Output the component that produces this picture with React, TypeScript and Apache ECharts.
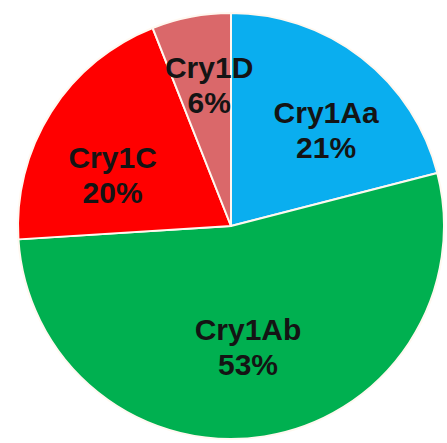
import React, { useEffect, useRef } from "react";
import * as echarts from "echarts";

const categories = ["Cry1Aa", "Cry1Ab", "Cry1C", "Cry1D"];
const values = [21, 53, 20, 6];
const colors = ["#0AAEEF", "#00B050", "#FF0000", "#DA686A"];

const CX = 231;
const CY = 226;
const R = 213;
// label placement (style): radius and angular nudge in degrees per slice
const labelRadius = [135, 122, 129, 143];
const labelAngleNudge = [7, 1, -9, 2];

export default function App() {
  const ref = useRef<HTMLDivElement>(null);
  useEffect(() => {
    document.body.style.margin = "0";
    const chart = echarts.init(ref.current!, null, { renderer: "svg" });
    const total = values.reduce((a, b) => a + b, 0);
    const mids: number[] = [];
    let acc = 0;
    values.forEach((v) => {
      mids.push(((acc + v / 2) / total) * 360);
      acc += v;
    });
    chart.setOption({
      animation: false,
      backgroundColor: "#ffffff",
      series: [
        {
          type: "pie",
          center: [CX, CY],
          radius: [0, R],
          startAngle: 90,
          clockwise: true,
          silent: true,
          itemStyle: { borderColor: "#FFF8F0", borderWidth: 2 },
          label: {
            show: true,
            position: "inside",
            formatter: (p: any) => `${p.name}\n${p.value}%`,
            fontFamily: "Liberation Sans, Arial, sans-serif",
            fontWeight: "bold",
            fontSize: 30,
            lineHeight: 35,
            color: "#141414",
            align: "center",
            verticalAlign: "middle",
          },
          labelLine: { show: false },
          labelLayout: (params: any) => {
            const i = params.dataIndex;
            const a = ((mids[i] + labelAngleNudge[i]) * Math.PI) / 180;
            return {
              x: CX + labelRadius[i] * Math.sin(a),
              y: CY - labelRadius[i] * Math.cos(a),
            };
          },
          data: categories.map((c, i) => ({
            name: c,
            value: values[i],
            itemStyle: { color: colors[i] },
          })),
        },
      ],
    });
    return () => chart.dispose();
  }, []);
  return (
    <div
      ref={ref}
      style={{ position: "absolute", left: 0, top: 0, width: 447, height: 443 }}
    />
  );
}
